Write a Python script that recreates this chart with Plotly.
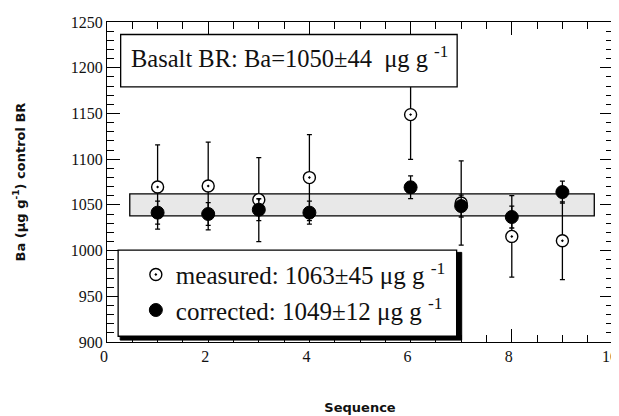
import plotly.graph_objects as go

# ---- data ----
sequence = [1, 2, 3, 4, 6, 7, 8, 9]
measured = [1069.5, 1070.6, 1055.7, 1079.8, 1148.7, 1052.0, 1015.5, 1010.8]
measured_err = [46, 48, 46, 47, 49, 46, 44.5, 42.5]
corrected = [1041.5, 1040.0, 1044.7, 1041.5, 1069.2, 1048.7, 1036.7, 1064.0]
corrected_err = [12.5, 12.5, 12, 12.5, 12.4, 12, 12, 12]
ref_value = 1050
band_half = 12
band_x = [0.45, 9.63]

x_ticks = [0, 2, 4, 6, 8, 10]
y_ticks = [900, 950, 1000, 1050, 1100, 1150, 1200, 1250]

title_text = "Basalt BR: Ba=1050±44&nbsp;&nbsp;μg g <sup>-1</sup>"
measured_label = "measured: 1063±45 μg g <sup>-1</sup>"
corrected_label = "corrected: 1049±12 μg g <sup>-1</sup>"

SERIF = "Liberation Serif"
SANS = "DejaVu Sans"
INK = "#111111"

fig = go.Figure()

fig.add_trace(go.Scatter(
    x=sequence, y=measured, mode="markers", name=measured_label,
    marker=dict(symbol="circle-dot", size=12, color="white",
                line=dict(color="black", width=1.4)),
    error_y=dict(type="data", array=measured_err, visible=True,
                 color="black", thickness=1.3, width=2.5),
))
fig.add_trace(go.Scatter(
    x=sequence, y=corrected, mode="markers", name=corrected_label,
    marker=dict(symbol="circle", size=13, color="black",
                line=dict(color="black", width=1)),
    error_y=dict(type="data", array=corrected_err, visible=True,
                 color="black", thickness=1.3, width=2.5),
))

# reference band
fig.add_shape(type="rect", xref="x", yref="y",
              x0=band_x[0], x1=band_x[1],
              y0=ref_value - band_half, y1=ref_value + band_half,
              fillcolor="#e8e8e8", line=dict(color="black", width=1.3),
              layer="below")

# title box
fig.add_shape(type="rect", xref="paper", yref="paper",
              x0=0.027, x1=0.692, y0=0.797, y1=0.961,
              fillcolor="white", line=dict(color="black", width=1.3),
              layer="above")
fig.add_annotation(xref="paper", yref="paper", x=0.043, y=0.89,
                   xanchor="left", yanchor="middle", showarrow=False,
                   text=title_text, font=dict(family=SERIF, size=24.5, color=INK))

# legend box with shadow
fig.add_shape(type="rect", xref="paper", yref="paper",
              x0=0.026, x1=0.701, y0=0.006, y1=0.280,
              fillcolor="black", line=dict(color="black", width=1),
              layer="above")
fig.add_shape(type="rect", xref="paper", yref="paper",
              x0=0.022, x1=0.691, y0=0.018, y1=0.287,
              fillcolor="white", line=dict(color="black", width=1.3),
              layer="above")

fig.update_layout(
    width=611, height=408,
    margin=dict(l=99, r=6, t=14, b=74, autoexpand=False),
    paper_bgcolor="white", plot_bgcolor="white",
    showlegend=True,
    legend=dict(x=0.057, y=0.282, xanchor="left", yanchor="top",
                bgcolor="rgba(0,0,0,0)", borderwidth=0,
                font=dict(family=SERIF, size=25, color=INK),
                itemsizing="trace"),
    font=dict(family=SERIF, color=INK),
)

axis_common = dict(
    showline=True, linecolor="black", linewidth=1.3, mirror="ticks",
    ticks="inside", ticklen=13, tickwidth=1.2, tickcolor="black",
    showgrid=False, zeroline=False, ticklabeloverflow="allow",
    tickfont=dict(family=SERIF, size=16, color=INK),
)

fig.update_xaxes(
    range=[0, 10], tickvals=x_ticks, **axis_common,
    ticklabelshift=-3,
    minor=dict(dtick=0.5, ticks="inside", ticklen=7, tickwidth=1.2,
               tickcolor="black", showgrid=False),
    title=dict(text="Sequence", standoff=38,
               font=dict(family=SANS, size=13, color=INK, weight="bold")),
)
fig.update_yaxes(
    range=[900, 1250], tickvals=y_ticks, **axis_common,
    minor=dict(dtick=10, ticks="inside", ticklen=7, tickwidth=1.2,
               tickcolor="black", showgrid=False),
    title=dict(text="Ba (μg g<sup>-1</sup>) control BR", standoff=42,
               font=dict(family=SANS, size=13, color=INK, weight="bold")),
)

fig.write_html("out.html")
